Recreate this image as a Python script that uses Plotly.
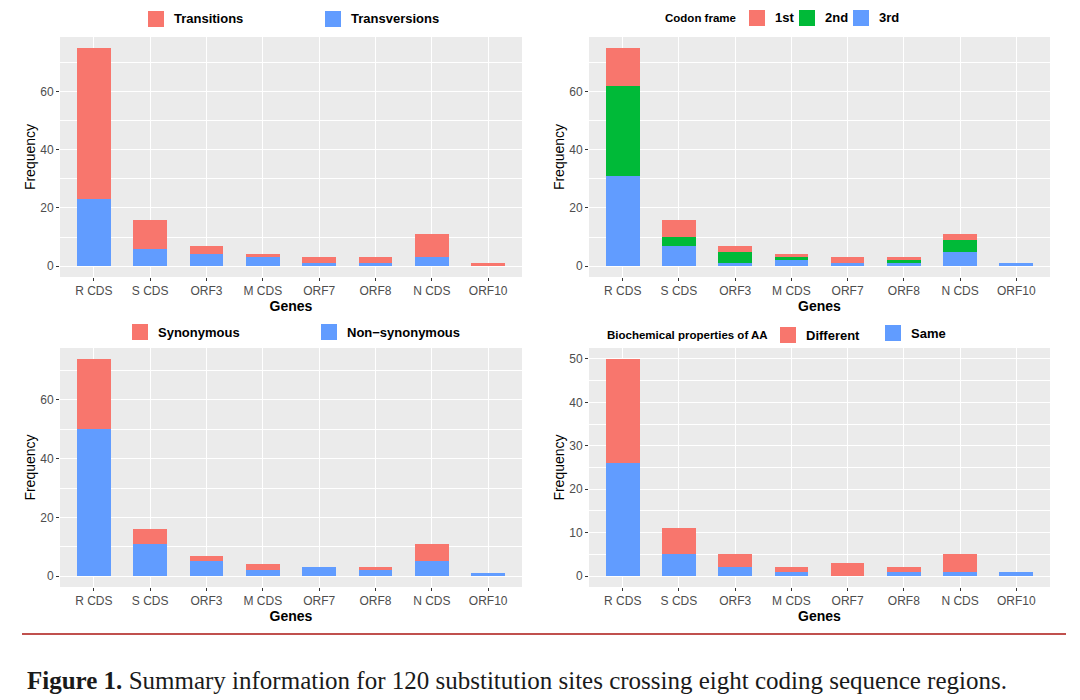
import plotly.graph_objects as go

genes = ["R CDS", "S CDS", "ORF3", "M CDS", "ORF7", "ORF8", "N CDS", "ORF10"]

# Panel 1: mutation type
transversions = [23, 6, 4, 3, 1, 1, 3, 0]
transitions = [52, 10, 3, 1, 2, 2, 8, 1]

# Panel 2: codon frame
frame_3rd = [31, 7, 1, 2, 1, 1, 5, 1]
frame_2nd = [31, 3, 4, 1, 0, 1, 4, 0]
frame_1st = [13, 6, 2, 1, 2, 1, 2, 0]

# Panel 3: synonymous / non-synonymous
non_synonymous = [50, 11, 5, 2, 3, 2, 5, 1]
synonymous = [24, 5, 2, 2, 0, 1, 6, 0]

# Panel 4: biochemical properties of AA
aa_same = [26, 5, 2, 1, 0, 1, 1, 1]
aa_different = [24, 6, 3, 1, 3, 1, 4, 0]

RED = "#F8766D"
GREEN = "#00BA38"
BLUE = "#619CFF"

W, H = 1080, 700
def fx(px):
    return px / W
def fy(py):
    return 1 - py / H

fig = go.Figure()

panels = [
    ("x", "y", [(transversions, BLUE, "Transversions"), (transitions, RED, "Transitions")],
     [-3.75, 78.75], [0, 20, 40, 60], 10, (60, 522), (37, 277)),
    ("x2", "y2", [(frame_3rd, BLUE, "3rd"), (frame_2nd, GREEN, "2nd"), (frame_1st, RED, "1st")],
     [-3.75, 78.75], [0, 20, 40, 60], 10, (589, 1050), (37, 277)),
    ("x3", "y3", [(non_synonymous, BLUE, "Non-synonymous"), (synonymous, RED, "Synonymous")],
     [-3.7, 77.7], [0, 20, 40, 60], 10, (60, 522), (348, 587)),
    ("x4", "y4", [(aa_same, BLUE, "Same"), (aa_different, RED, "Different")],
     [-2.5, 52.5], [0, 10, 20, 30, 40, 50], 5, (589, 1050), (348, 587)),
]

for i, (xa, ya, traces, yr, ytv, mdt, xd, yd) in enumerate(panels):
    for vals, col, name in traces:
        fig.add_trace(go.Bar(x=genes, y=vals, name=name, marker=dict(color=col, line=dict(width=0)),
                             width=0.6, xaxis=xa, yaxis=ya, showlegend=False))
    sfx = "" if i == 0 else str(i + 1)
    fig.layout["xaxis" + sfx] = dict(
        domain=[fx(xd[0]), fx(xd[1])], anchor=ya, range=[-0.6, 7.6],
        categoryorder="array", categoryarray=genes,
        showgrid=True, gridcolor="white", gridwidth=1.1,
        ticks="outside", ticklen=3, tickcolor="#333333", tickwidth=1,
        tickfont=dict(family="Liberation Sans, Arial", size=12, color="#4D4D4D"),
        title=dict(text="<b>Genes</b>", font=dict(family="Liberation Sans, Arial", size=14, color="black"), standoff=2),
        showline=False, zeroline=False, fixedrange=True,
    )
    fig.layout["yaxis" + sfx] = dict(
        domain=[fy(yd[1]), fy(yd[0])], anchor=xa, range=yr,
        tickvals=ytv, showgrid=True, gridcolor="white", gridwidth=1.1,
        minor=dict(dtick=mdt, tick0=0, showgrid=True, gridcolor="white", gridwidth=0.5),
        ticks="outside", ticklen=3, tickcolor="#333333", tickwidth=1,
        tickfont=dict(family="Liberation Sans, Arial", size=12, color="#4D4D4D"),
        title=dict(text="Frequency", font=dict(family="Liberation Sans, Arial", size=14, color="black"), standoff=1),
        showline=False, zeroline=False, fixedrange=True,
    )

legend_items = [
    (148, 19, "Transitions", RED), (325, 19, "Transversions", BLUE),
    (749, 18, "1st", RED), (799, 18, "2nd", GREEN), (853, 18, "3rd", BLUE),
    (132, 332, "Synonymous", RED), (321, 332, "Non\u2212synonymous", BLUE),
    (780, 335, "Different", RED), (885, 333, "Same", BLUE),
]
shapes = []
annotations = []
for kx, ky, label, col in legend_items:
    shapes.append(dict(type="rect", xref="paper", yref="paper",
                       x0=fx(kx), x1=fx(kx + 16), y0=fy(ky + 8), y1=fy(ky - 8),
                       fillcolor=col, line=dict(width=0)))
    annotations.append(dict(x=fx(kx + 24), y=fy(ky), xref="paper", yref="paper", xanchor="left", yanchor="middle",
                            text="<b>" + label + "</b>", showarrow=False,
                            font=dict(family="Liberation Sans, Arial", size=13, color="black")))

for tx, ty, title in [(663, 18, "Codon frame"), (605, 335, "Biochemical properties of AA")]:
    annotations.append(dict(x=fx(tx), y=fy(ty), xref="paper", yref="paper", xanchor="left", yanchor="middle",
                            text="<b>" + title + "</b>", showarrow=False,
                            font=dict(family="Liberation Sans, Arial", size=11.5, color="black")))

shapes.append(dict(type="line", xref="paper", yref="paper", x0=fx(22), x1=fx(1066), y0=fy(634), y1=fy(634),
                   line=dict(color="#C0504D", width=2)))
annotations.append(dict(x=fx(25), y=fy(680), xref="paper", yref="paper", xanchor="left", yanchor="middle",
                        text="<b>Figure 1.</b> Summary information for 120 substitution sites crossing eight coding sequence regions.",
                        showarrow=False, font=dict(family="Liberation Serif, Times New Roman", size=25, color="#1a1a1a")))

fig.update_layout(
    width=W, height=H, margin=dict(l=0, r=0, t=0, b=0),
    barmode="stack", bargap=0.4,
    plot_bgcolor="#EBEBEB", paper_bgcolor="white",
    shapes=shapes, annotations=annotations, showlegend=False,
)

fig.write_html("out.html", config={"displayModeBar": False},
               post_script="document.body.style.margin='0';")
